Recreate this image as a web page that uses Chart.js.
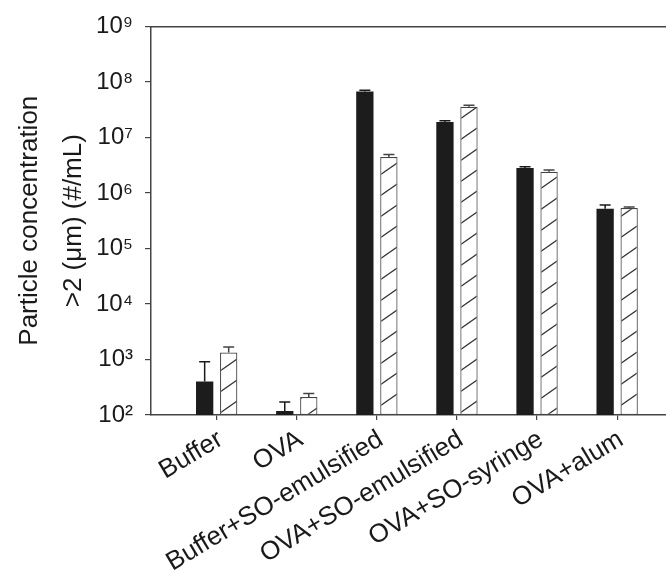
<!DOCTYPE html>
<html>
<head>
<meta charset="utf-8">
<script src="https://cdn.jsdelivr.net/npm/chart.js@4.4.1/dist/chart.umd.min.js"></script>
<style>
html,body{margin:0;padding:0;background:#fff;}
canvas{display:block;}
</style>
</head>
<body>
<canvas id="c" width="666" height="570"></canvas>
<script>
// ---- data ----
const categories = ['Buffer', 'OVA', 'Buffer+SO-emulsified', 'OVA+SO-emulsified', 'OVA+SO-syringe', 'OVA+alum'];
const solidValues = [400, 118, 6.7e7, 1.9e7, 2.8e6, 5.2e5];
const solidErrors = [510, 54, 4e6, 1e6, 1.5e5, 8.5e4];
const hatchValues = [1330, 211, 4.45e6, 3.58e7, 2.41e6, 5.37e5];
const hatchErrors = [350, 32, 5e5, 2.2e6, 1.9e5, 2e4];
const yTickValues = [1e2, 1e3, 1e4, 1e5, 1e6, 1e7, 1e8, 1e9];
const yTickLabels = ['10²', '10³', '10⁴', '10⁵', '10⁶', '10⁷', '10⁸', '10⁹'];
const yTitle = ['Particle concentration', '>2 (μm) (#/mL)'];

// ---- hatch pattern ----
function makeHatch() {
  const w = 30, h = 21;
  const pc = document.createElement('canvas');
  pc.width = w; pc.height = h;
  const g = pc.getContext('2d');
  g.fillStyle = '#ffffff';
  g.fillRect(0, 0, w, h);
  g.strokeStyle = '#333';
  g.lineWidth = 1.3;
  [[-w, 0], [0, 0], [w, 0], [0, -h], [0, h]].forEach(([dx, dy]) => {
    g.beginPath();
    g.moveTo(0 + dx, h + dy);
    g.lineTo(w + dx, 0 + dy);
    g.stroke();
  });
  return document.getElementById('c').getContext('2d').createPattern(pc, 'repeat');
}

const font = 'Liberation Sans, Arial, Helvetica, sans-serif';

const errorBars = {
  id: 'errorBars',
  afterDatasetsDraw(chart) {
    const ctx = chart.ctx;
    const yS = chart.scales.y;
    chart.data.datasets.forEach((ds, di) => {
      const meta = chart.getDatasetMeta(di);
      meta.data.forEach((el, i) => {
        const v = ds.data[i].y;
        const e = ds.errors[i];
        const yTop = yS.getPixelForValue(v + e);
        const yBar = yS.getPixelForValue(v);
        ctx.save();
        ctx.strokeStyle = ds.errColor;
        ctx.lineWidth = 1.5;
        ctx.beginPath();
        ctx.moveTo(el.x, yBar);
        ctx.lineTo(el.x, yTop);
        ctx.moveTo(el.x - 5.5, yTop);
        ctx.lineTo(el.x + 5.5, yTop);
        ctx.stroke();
        ctx.restore();
      });
    });
  }
};

const toPoints = arr => arr.map((v, i) => ({x: i + 1, y: v}));

new Chart(document.getElementById('c'), {
  type: 'bar',
  data: {
    datasets: [
      {
        data: toPoints(solidValues),
        errors: solidErrors,
        errColor: '#1a1a1a',
        backgroundColor: '#1c1c1c',
        borderColor: '#1c1c1c',
        borderWidth: 0,
        categoryPercentage: 0.6,
        barPercentage: 0.72,
        xAxisID: 'x'
      },
      {
        data: toPoints(hatchValues),
        errors: hatchErrors,
        errColor: '#444',
        backgroundColor: makeHatch(),
        borderColor: '#444',
        borderWidth: 1.2,
        borderSkipped: false,
        categoryPercentage: 0.6,
        barPercentage: 0.72,
        xAxisID: 'x'
      }
    ]
  },
  options: {
    responsive: false,
    devicePixelRatio: 1,
    animation: false,
    layout: {padding: {top: 21, right: 0, left: 0, bottom: 0}},
    plugins: {legend: {display: false}, tooltip: {enabled: false}},
    scales: {
      x: {
        type: 'linear',
        position: 'bottom',
        offset: false,
        min: 0.18,
        max: 6.61,
        afterBuildTicks: s => { s.ticks = categories.map((c, i) => ({value: i + 1})); },
        afterFit: s => { s.height = 155; s.paddingRight = 0; s.paddingLeft = 0; },
        grid: {display: true, offset: false, drawOnChartArea: false, drawTicks: true, tickLength: 5, color: '#444', lineWidth: 1.2},
        border: {display: true, color: '#444', width: 1.5},
        ticks: {
          autoSkip: false,
          maxRotation: 31,
          minRotation: 31,
          padding: 4,
          labelOffset: 4,
          color: '#1a1a1a',
          font: {family: font, size: 26},
          callback: v => categories[v - 1]
        }
      },
      xTop: {
        type: 'linear',
        position: 'top',
        offset: false,
        min: 0.18,
        max: 6.61,
        afterFit: s => { s.height = 0; },
        grid: {display: false},
        border: {display: true, color: '#444', width: 1.5},
        ticks: {display: false}
      },
      y: {
        type: 'logarithmic',
        min: 100,
        max: 1e9,
        afterBuildTicks: s => { s.ticks = yTickValues.map(v => ({value: v})); },
        afterFit: s => { s.width = 151; },
        grid: {display: true, drawOnChartArea: false, drawTicks: true, tickLength: 6, color: '#444', lineWidth: 1.2},
        border: {display: true, color: '#444', width: 1.5},
        ticks: {
          padding: 12,
          color: '#1a1a1a',
          font: {family: font, size: 24},
          callback: v => yTickLabels[yTickValues.indexOf(v)]
        },
        title: {
          display: true,
          text: yTitle,
          color: '#1a1a1a',
          font: {family: font, size: 26, lineHeight: 1.72},
          padding: {top: 7, bottom: 0}
        }
      }
    }
  },
  plugins: [errorBars]
});
</script>
</body>
</html>
